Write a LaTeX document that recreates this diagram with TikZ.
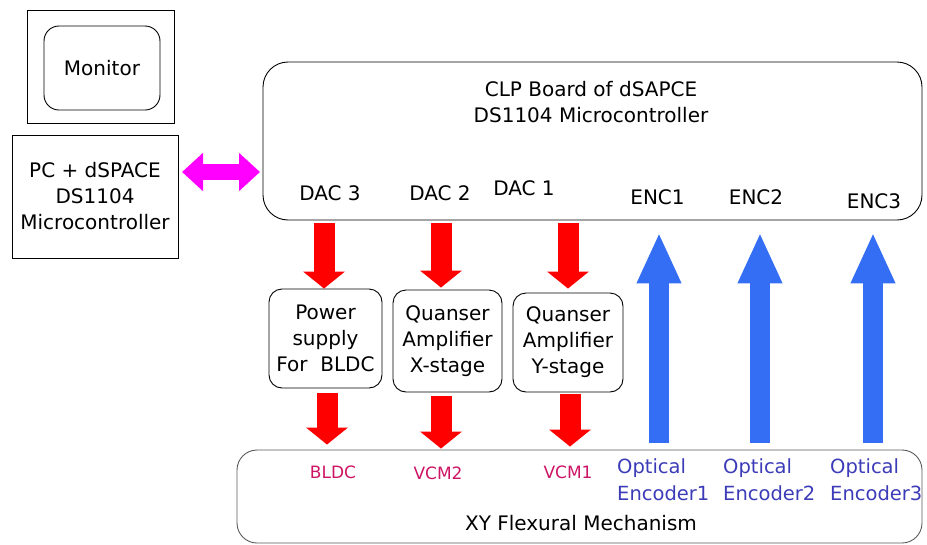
\documentclass[tikz,border=0pt]{standalone}
\usepackage{fontspec}
\setmainfont{DejaVu Sans}
\usetikzlibrary{arrows.meta}
\definecolor{redarr}{RGB}{255,0,0}
\definecolor{bluearr}{RGB}{51,110,245}
\definecolor{magarr}{RGB}{255,0,255}
\definecolor{labred}{RGB}{205,20,100}
\definecolor{labblue}{RGB}{60,60,185}
\begin{document}
\begin{tikzpicture}[x=1pt,y=-1pt,
  txt/.style={font=\fontsize{20}{26}\selectfont, inner sep=0pt, align=center},
  box/.style={draw=black, line width=0.9pt, inner sep=0pt, align=center, font=\fontsize{20}{26}\selectfont},
  rbox/.style={box, rounded corners=13pt},
  redarrow/.style={draw=redarr, line width=21pt, -{Triangle[width=41pt,length=17pt]}},
  bluearrow/.style={draw=bluearr, line width=20pt, -{Triangle[width=41pt,length=51pt]}},
  magarrow/.style={draw=magarr, line width=16pt, {Triangle[width=37pt,length=21pt]}-{Triangle[width=37pt,length=21pt]}},
  redlab/.style={txt, font=\fontsize{17}{20}\selectfont, text=labred},
  bluelab/.style={txt, align=left, anchor=west, text=labblue, font=\fontsize{19.5}{27}\selectfont}
]
\useasboundingbox (0,0) rectangle (927,544);

% left column
\node[box, minimum width=147pt, minimum height=113pt] (monout) at (100.5,66.5) {};
\node[rbox, rounded corners=15pt, minimum width=116pt, minimum height=84pt] (monitor) at (102,68) {Monitor};
\node[box, minimum width=166pt, minimum height=123pt] (pc) at (95,196.5) {PC + dSPACE\\DS1104\\Microcontroller};

% board
\node[rbox, rounded corners=25pt, minimum width=659pt, minimum height=158pt] (board) at (592.5,141) {};
\node[txt] (title) at (591,102) {CLP Board of dSAPCE\\DS1104 Microcontroller};
\node[txt] (dac3) at (330,193) {DAC 3};
\node[txt] (dac2) at (440,193) {DAC 2};
\node[txt] (dac1) at (524,188) {DAC 1};
\node[txt] (enc1) at (657.5,197) {ENC1};
\node[txt] (enc2) at (756,197) {ENC2};
\node[txt] (enc3) at (874,201) {ENC3};

% middle boxes
\node[rbox, minimum width=113pt, minimum height=99pt] (ps) at (325.5,338.5) {Power\\supply\\For~~BLDC};
\node[rbox, minimum width=109pt, minimum height=102pt] (xb) at (447.5,341) {Quanser\\Amplifier\\X-stage};
\node[rbox, minimum width=110pt, minimum height=99pt] (yb) at (568,342.5) {Quanser\\Amplifier\\Y-stage};

% bottom box
\node[rbox, draw=black!65, rounded corners=20pt, minimum width=685pt, minimum height=93pt] (xy) at (579.5,496.5) {};
\node[redlab] (bldc) at (333,472) {BLDC};
\node[redlab] (vcm2) at (438,473) {VCM2};
\node[redlab] (vcm1) at (568,472) {VCM1};
\node[bluelab] (oe1) at (617,480) {Optical\\Encoder1};
\node[bluelab] (oe2) at (723,480) {Optical\\Encoder2};
\node[bluelab] (oe3) at (830,480) {Optical\\Encoder3};
\node[txt] (xytext) at (581,523) {XY Flexural Mechanism};

% magenta double arrow
\coordinate (mL) at (182,172);
\coordinate (mR) at (260,172);
\draw[magarrow] (mL) -- (mR);

% red arrows board -> boxes
\coordinate (t1) at ([xshift=-1.5pt]ps.north);
\coordinate (t2) at ([xshift=-6.5pt]xb.north);
\coordinate (t3) at (yb.north);
\draw[redarrow, shorten <=3pt] (t1 |- board.south) -- (t1);
\draw[redarrow, shorten <=3pt, shorten >=2pt] (t2 |- board.south) -- (t2);
\draw[redarrow, shorten <=3pt, shorten >=4pt] (t3 |- board.south) -- (t3);

% red arrows boxes -> mechanism
\coordinate (a1) at ([xshift=1.5pt]ps.south);
\coordinate (a2) at ([xshift=-6.5pt]xb.south);
\coordinate (a3) at ([xshift=2pt]yb.south);
\draw[redarrow, shorten <=5pt, shorten >=5pt] (a1) -- (a1 |- xy.north);
\draw[redarrow, shorten <=4pt, shorten >=1pt] (a2) -- (a2 |- xy.north);
\draw[redarrow, shorten <=2pt, shorten >=3pt] (a3) -- (a3 |- xy.north);

% blue arrows mechanism -> encoders
\coordinate (b1) at ([xshift=1.5pt]enc1.center);
\coordinate (b2) at ([xshift=4pt]enc2.center);
\coordinate (b3) at ([xshift=-1pt]enc3.center);
\draw[bluearrow, shorten <=7pt, shorten >=12pt] (b1 |- xy.north) -- (b1 |- board.south);
\draw[bluearrow, shorten <=7pt, shorten >=12pt] (b2 |- xy.north) -- (b2 |- board.south);
\draw[bluearrow, shorten <=7pt, shorten >=12pt] (b3 |- xy.north) -- (b3 |- board.south);
\end{tikzpicture}
\end{document}
